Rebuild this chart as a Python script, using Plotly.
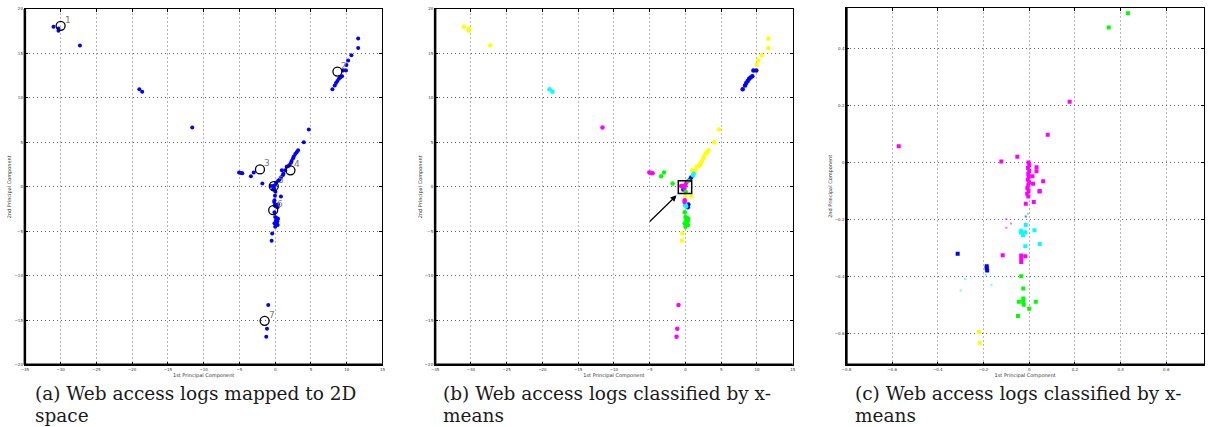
import plotly.graph_objects as go

W, H = 1208, 427

# ---------------- full-view data (panels a and b), by x-means cluster ----------------
yellow_x = [-31.0, -30.3, -30.3, -27.3, 9.96, 10.2, 10.65, 11.6, 11.6, 4.7, 4.0, 3.2, 3.0, 2.8, 2.6, 2.5, 2.3, 2.2, 2.0, 1.8, 1.6, 1.4, 0.93, -0.03, 0.8, -0.42, -0.5]
yellow_y = [18.0, 17.8, 17.55, 15.9, 13.7, 14.2, 14.8, 15.6, 16.67, 6.44, 5.0, 4.1, 3.9, 3.7, 3.4, 3.2, 2.9, 2.7, 2.44, 2.3, 2.26, 1.85, 1.85, -1.0, -1.1, -5.26, -6.07]
blue_x = [8.0, 8.33, 8.5, 8.7, 8.9, 9.1, 9.35, 9.5, 9.9, 0.8, 0.6, 0.33, 0.4, -0.3]
blue_y = [10.97, 11.4, 11.67, 11.9, 12.15, 12.3, 12.44, 13.07, 13.07, 1.04, 0.8, -2.3, -2.0, -0.3]
cyan_x = [-19.0, -18.6, 1.15, 1.05, 0.0, 0.1, -0.05]
cyan_y = [10.97, 10.7, 1.48, 1.3, -2.0, -2.2, -2.1]
magenta_x = [-11.6, -5.05, -4.8, -4.6, -0.6, -0.28, 0.0, 0.14, -0.14, -0.1, -0.14, -0.97, -1.15, -1.25]
magenta_y = [6.67, 1.6, 1.55, 1.52, 0.1, 0.1, 0.2, 0.48, -0.2, -1.5, -1.7, -13.3, -15.96, -16.85]
green_x = [-3.0, -3.4, -1.8, 0.42, 0.04, -0.1, 0.0, 0.2, 0.4, 0.1, 0.3, -0.1, 0.2, 0.35, 0.0]
green_y = [1.6, 1.18, 0.37, 0.67, -0.56, -2.85, -3.4, -3.5, -3.6, -3.8, -3.9, -4.1, -4.2, -4.3, -4.5]

# cluster centres marked in panel (a)
centre_x = [-30.0, 8.7, -2.13, 2.13, -0.2, -0.28, -1.48]
centre_y = [18.1, 12.96, 1.96, 1.85, 0.07, -2.63, -15.07]
centre_lbl = ["1", "2", "3", "4", "5", "6", "7"]

# ---------------- zoomed data (panel c) ----------------
c_green_x = [0.432, 0.348, -0.035, -0.026, -0.026, -0.045, -0.026, 0.029, -0.024, 0.0, -0.049]
c_green_y = [0.524, 0.474, -0.40, -0.443, -0.478, -0.49, -0.49, -0.49, -0.50, -0.514, -0.54]
c_magenta_x = [0.177, 0.081, -0.571, -0.122, -0.052,
               -0.003, 0.0, -0.005, 0.0, -0.004, -0.002, -0.006, 0.0, -0.004, -0.008, -0.003, -0.009, -0.004,
               0.032, 0.032, 0.014, 0.017, 0.061, 0.045, 0.046, 0.02, -0.015,
               -0.116, -0.017, -0.035, -0.035, -0.035]
c_magenta_y = [0.213, 0.097, 0.057, 0.003, 0.020,
               0.0, -0.01, -0.02, -0.03, -0.04, -0.05, -0.06, -0.07, -0.08, -0.09, -0.10, -0.11, -0.12,
               -0.017, -0.031, -0.049, -0.075, -0.066, -0.102, -0.100, -0.139, -0.145,
               -0.326, -0.33, -0.327, -0.338, -0.35]
c_cyan_x = [-0.015, -0.035, -0.037, -0.025, -0.017, -0.027, 0.023, 0.046, -0.017]
c_cyan_y = [-0.22, -0.24, -0.246, -0.25, -0.245, -0.256, -0.238, -0.287, -0.295]
c_blue_x = [-0.313, -0.186, -0.186, -0.184]
c_blue_y = [-0.321, -0.365, -0.372, -0.380]
c_yellow_x = [-0.22, -0.217]
c_yellow_y = [-0.596, -0.635]
c_faint_x = [-0.19, -0.28, -0.30, -0.165, -0.10, -0.10, -0.08, -0.015, -0.006]
c_faint_y = [-0.395, -0.41, -0.45, -0.43, -0.20, -0.23, -0.215, -0.19, -0.18]
c_faint_c = ["#00ffff", "#00ffff", "#00ffff", "#00ffff", "#ff00ff", "#ff00ff", "#ff00ff", "#0000ff", "#00ff00"]

captions = [["(a) Web access logs mapped to 2D", "space"],
            ["(b) Web access logs classified by x-", "means"],
            ["(c) Web access logs classified by x-", "means"]]

fig = go.Figure()

all_x = yellow_x + blue_x + cyan_x + magenta_x + green_x
all_y = yellow_y + blue_y + cyan_y + magenta_y + green_y

# panel (a)
fig.add_trace(go.Scatter(x=all_x, y=all_y, mode="markers", xaxis="x", yaxis="y",
                         marker=dict(color="#0000ff", size=4, symbol="circle"), showlegend=False))
fig.add_trace(go.Scatter(x=centre_x, y=centre_y, mode="markers", xaxis="x", yaxis="y",
                         marker=dict(color="black", size=9, symbol="circle-open",
                                     line=dict(color="black", width=1.3)), showlegend=False))
for cx, cy, lb in zip(centre_x, centre_y, centre_lbl):
    fig.add_annotation(x=cx, y=cy, xref="x", yref="y", text=lb, showarrow=False,
                       xshift=7, yshift=6, font=dict(size=9, color="#777777", family="DejaVu Sans"))

# panel (b)
for xs, ys, col in [(yellow_x, yellow_y, "#ffff00"), (blue_x, blue_y, "#0000ff"), (cyan_x, cyan_y, "#00ffff"),
                    (magenta_x, magenta_y, "#ff00ff"), (green_x, green_y, "#00ff00")]:
    fig.add_trace(go.Scatter(x=xs, y=ys, mode="markers", xaxis="x2", yaxis="y2",
                             marker=dict(color=col, size=4.5, symbol="circle"), showlegend=False))
fig.add_shape(type="rect", xref="x2", yref="y2", x0=-1.0, x1=0.87, y0=-0.74, y1=0.67,
              line=dict(color="black", width=1.5))
fig.add_annotation(xref="x2", yref="y2", axref="x2", ayref="y2", x=-1.25, y=-0.96, ax=-5.2, ay=-4.07,
                   text="", showarrow=True, arrowhead=2, arrowsize=1, arrowwidth=1.2, arrowcolor="black")

# panel (c)
for xs, ys, col in [(c_green_x, c_green_y, "#00ff00"), (c_magenta_x, c_magenta_y, "#ff00ff"),
                    (c_cyan_x, c_cyan_y, "#00ffff"), (c_blue_x, c_blue_y, "#0000ff"),
                    (c_yellow_x, c_yellow_y, "#ffff00")]:
    fig.add_trace(go.Scatter(x=xs, y=ys, mode="markers", xaxis="x3", yaxis="y3",
                             marker=dict(color=col, size=4, symbol="square"), showlegend=False))
fig.add_trace(go.Scatter(x=c_faint_x, y=c_faint_y, mode="markers", xaxis="x3", yaxis="y3",
                         marker=dict(color=c_faint_c, size=2, symbol="square", opacity=0.6), showlegend=False))

def px_x(p):
    return p / W

def px_y(p):
    return (H - p) / H

tickfont = dict(size=4, color="#333333", family="DejaVu Sans")
titlefont = dict(size=5, color="#333333", family="DejaVu Sans")

def fmt(vals):
    return [("%g" % v).replace("-", "−") for v in vals]

def xax(dom, rng, vals, anchor):
    return dict(domain=dom, range=rng, tickvals=vals, ticktext=fmt(vals),
                anchor=anchor, showline=True, linecolor="black", linewidth=1.2, mirror="ticks",
                ticks="inside", ticklen=3, tickcolor="black", tickwidth=1,
                showgrid=True, gridcolor="#b8b8b8", griddash="2px,2px", gridwidth=1,
                zeroline=False, tickfont=tickfont,
                title=dict(text="1st Principal Component", font=titlefont, standoff=1))

def yax(dom, rng, vals, anchor):
    return dict(domain=dom, range=rng, tickvals=vals, ticktext=fmt(vals),
                anchor=anchor, showline=True, linecolor="black", linewidth=1.2, mirror="ticks",
                ticks="inside", ticklen=3, tickcolor="black", tickwidth=1,
                showgrid=True, gridcolor="#666666", griddash="1px,3px", gridwidth=1,
                zeroline=False, tickfont=tickfont,
                title=dict(text="2nd Principal Component", font=titlefont, standoff=2))

xt_ab = [-35, -30, -25, -20, -15, -10, -5, 0, 5, 10, 15]
yt_ab = [-20, -15, -10, -5, 0, 5, 10, 15, 20]
xt_c = [-0.8, -0.6, -0.4, -0.2, 0, 0.2, 0.4, 0.6]
yt_c = [-0.6, -0.4, -0.2, 0, 0.2, 0.4]

ydom = [px_y(366), px_y(6)]
fig.update_layout(
    width=W, height=H, margin=dict(l=0, r=0, t=0, b=0),
    paper_bgcolor="white", plot_bgcolor="white",
    xaxis=xax([px_x(20), px_x(380)], [-35, 15], xt_ab, "y"),
    yaxis=yax(ydom, [-20, 20], yt_ab, "x"),
    xaxis2=xax([px_x(433), px_x(793)], [-35, 15], xt_ab, "y2"),
    yaxis2=yax(ydom, [-20, 20], yt_ab, "x2"),
    xaxis3=xax([px_x(847), px_x(1207)], [-0.8, 0.765], xt_c, "y3"),
    yaxis3=yax([px_y(366), px_y(5)], [-0.711, 0.543], yt_c, "x3"),
)

# thicker left and bottom frame edges
for xa, ya in [("x", "y"), ("x2", "y2"), ("x3", "y3")]:
    fig.add_shape(type="line", xref=xa + " domain", yref=ya + " domain", x0=0, x1=0, y0=0, y1=1,
                  line=dict(color="black", width=2.5))
    fig.add_shape(type="line", xref=xa + " domain", yref=ya + " domain", x0=0, x1=1, y0=0, y1=0,
                  line=dict(color="black", width=2.5))

capfont = dict(size=18.5, color="#1a1a1a", family="DejaVu Serif")
cap_x = [29, 440, 855]
for cx, (l1, l2) in zip(cap_x, captions):
    fig.add_annotation(xref="paper", yref="paper", x=px_x(cx), y=px_y(395), text=l1, showarrow=False,
                       xanchor="left", yanchor="middle", font=capfont, borderpad=0)
    fig.add_annotation(xref="paper", yref="paper", x=px_x(cx), y=px_y(417), text=l2, showarrow=False,
                       xanchor="left", yanchor="middle", font=capfont, borderpad=0)

fig.write_html("out.html", config={"displayModeBar": False},
               post_script="document.body.style.margin='0';document.body.style.padding='0';document.body.style.overflow='hidden';")
